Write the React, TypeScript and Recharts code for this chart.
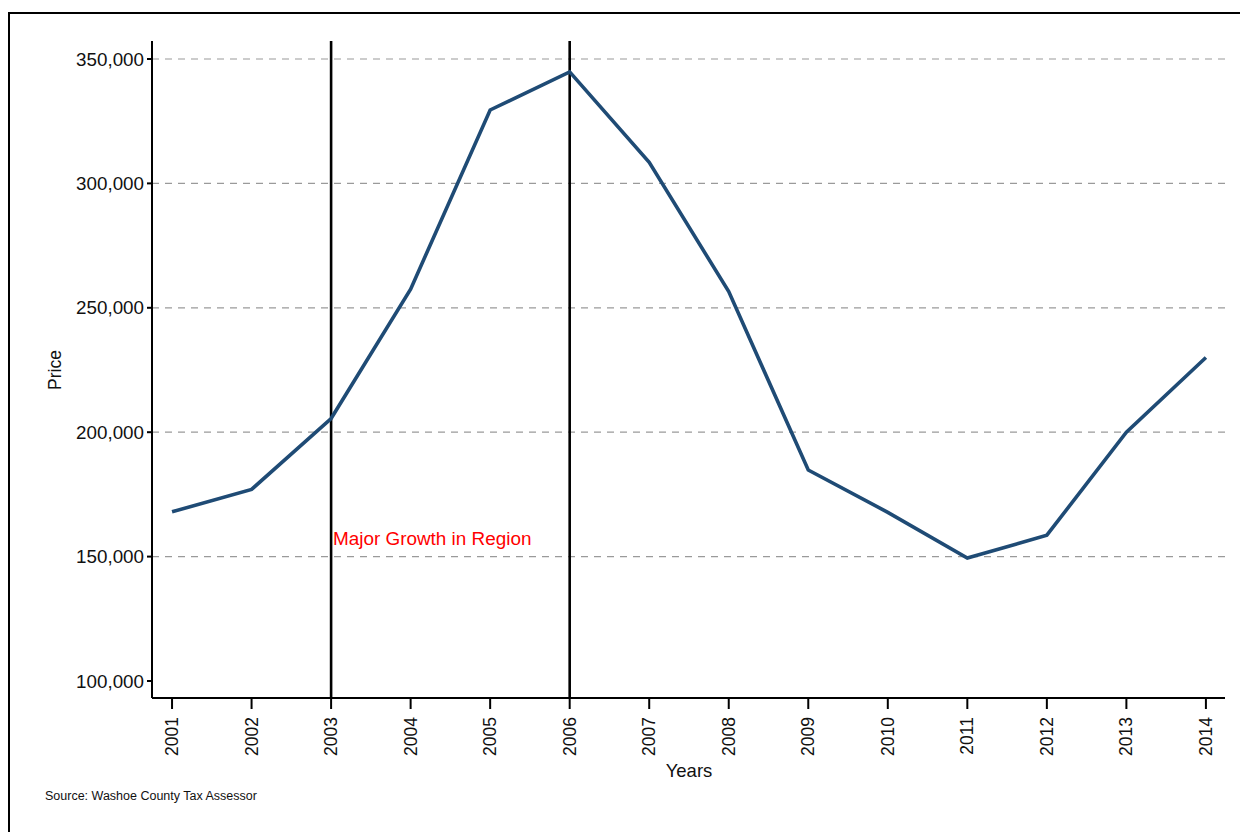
import { LineChart, Line, XAxis, YAxis, ReferenceLine } from 'recharts'

const years = [2001, 2002, 2003, 2004, 2005, 2006, 2007, 2008, 2009, 2010, 2011, 2012, 2013, 2014]
const prices = [168000, 177000, 205500, 257500, 329500, 344800, 308500, 256500, 184800, 167800, 149400, 158600, 200000, 230000]
const yTicks = [100000, 150000, 200000, 250000, 300000, 350000]
const gridValues = [150000, 200000, 250000, 300000, 350000]
const markerYears = [2003, 2006]

const data = years.map((year, i) => ({ year, price: prices[i] }))

const FONT = '"Liberation Sans", Arial, sans-serif'

function fmt(v: number) {
  return v.toLocaleString('en-US')
}

// eslint-disable-next-line @typescript-eslint/no-explicit-any
function YearTick(props: any) {
  const { x, y, payload } = props
  return (
    <text
      x={x}
      y={y}
      transform={`rotate(-90 ${x} ${y})`}
      textAnchor="end"
      dominantBaseline="central"
      fill="#111"
      fontSize={17.5}
      fontFamily={FONT}
    >
      {payload.value}
    </text>
  )
}

export default function App() {
  return (
    <div style={{ paddingTop: 4 }}>
      <div
        style={{
          position: 'relative',
          width: 1240,
          height: 818,
          borderTop: '2.5px solid #000',
          borderLeft: '2.5px solid #000',
          fontFamily: FONT,
          background: '#fff',
        }}
      >
        <LineChart width={1238} height={818} data={data} margin={{ top: 27, right: 23, left: 0, bottom: 14 }}>
          {gridValues.map((v) => (
            <ReferenceLine key={v} y={v} stroke="#9a9a9a" strokeWidth={1.2} strokeDasharray="7 6" />
          ))}
          {markerYears.map((yr) => (
            <ReferenceLine key={yr} x={yr} stroke="#000" strokeWidth={2.6} />
          ))}
          <XAxis
            dataKey="year"
            type="number"
            domain={[2000.748, 2014.24]}
            ticks={years}
            allowDataOverflow
            height={120}
            tickSize={11}
            tickMargin={8}
            tick={<YearTick />}
            stroke="#000"
            strokeWidth={2}
            tickLine={{ stroke: '#000', strokeWidth: 2 }}
          />
          <YAxis
            type="number"
            domain={[93170, 357230]}
            ticks={yTicks}
            allowDataOverflow
            width={142}
            tickSize={5}
            tickMargin={3}
            tickFormatter={fmt}
            tick={{ fill: '#111', fontSize: 18.8, fontFamily: FONT }}
            stroke="#000"
            strokeWidth={2}
          />
          <Line
            type="linear"
            dataKey="price"
            stroke="#1f4b75"
            strokeWidth={3.6}
            dot={false}
            isAnimationActive={false}
          />
        </LineChart>

        <div style={{ position: 'absolute', left: 323, top: 514, color: '#ff0000', fontSize: 18.9, whiteSpace: 'nowrap' }}>
          Major Growth in Region
        </div>
        <div
          style={{
            position: 'absolute',
            left: 679,
            top: 757,
            transform: 'translate(-50%, -50%)',
            fontSize: 18.5,
            color: '#111',
          }}
        >
          Years
        </div>
        <div
          style={{
            position: 'absolute',
            left: 45,
            top: 356,
            transform: 'translate(-50%, -50%) rotate(-90deg)',
            fontSize: 17.5,
            color: '#111',
          }}
        >
          Price
        </div>
        <div style={{ position: 'absolute', left: 35, top: 775, fontSize: 12.5, color: '#111', whiteSpace: 'nowrap' }}>
          Source: Washoe County Tax Assessor
        </div>
      </div>
    </div>
  )
}
